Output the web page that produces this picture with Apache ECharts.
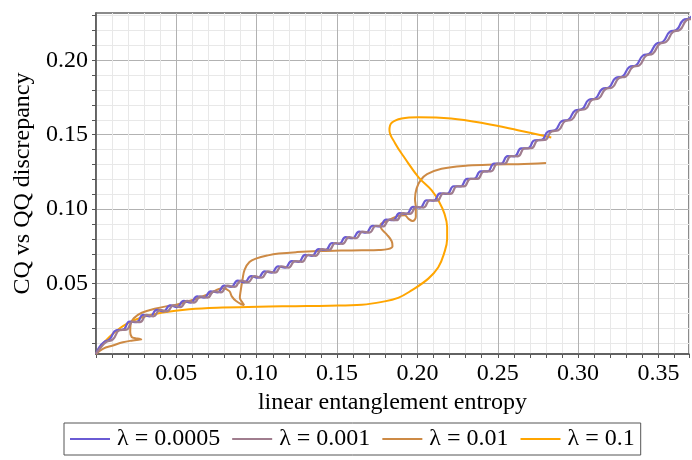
<!DOCTYPE html>
<html><head><meta charset="utf-8">
<script src="https://cdn.jsdelivr.net/npm/echarts@6/dist/echarts.min.js"></script>
<style>html,body{margin:0;padding:0;background:#fff}#c{width:692px;height:460px}</style>
</head><body><div id="c"></div>
<script>
// ---- data ----
const seriesNames = ['λ = 0.0005', 'λ = 0.001', 'λ = 0.01', 'λ = 0.1'];
const seriesColors = ['#6a5bd4', '#a07d8e', '#cd8a45', '#ffa500'];

// λ = 0.0005 (staircase-wiggly main curve), x values
const blueX = [0, 0.002, 0.005,
 0.0084,0.0126,0.0168,0.0210,0.0252,0.0294,0.0336,0.0378,0.0420,0.0462,0.0504,0.0546,0.0588,0.0630,0.0672,0.0714,0.0756,0.0798,
 0.0840,0.0882,0.0924,0.0966,0.1008,0.1050,0.1092,0.1134,0.1176,0.1218,0.1260,0.1302,0.1344,0.1386,0.1428,0.1470,0.1512,0.1554,
 0.1596,0.1638,0.1680,0.1722,0.1764,0.1806,0.1848,0.1890,0.1932,0.1974,0.2016,0.2058,0.2100,0.2142,0.2184,0.2226,0.2268,0.2310,
 0.2352,0.2394,0.2436,0.2478,0.2520,0.2562,0.2604,0.2646,0.2688,0.2730,0.2772,0.2814,0.2856,0.2898,0.2940,0.2982,0.3024,0.3066,
 0.3108,0.3150,0.3192,0.3234,0.3276,0.3318,0.3360,0.3402,0.3444,0.3486,0.3528,0.3570,0.3612,0.3654,0.3696,0.3738];
// λ = 0.001, x values (out of phase with λ = 0.0005)
const mauveX = [0, 0.003, 0.0063,
 0.0105,0.0147,0.0189,0.0231,0.0273,0.0315,0.0357,0.0399,0.0441,0.0483,0.0525,0.0567,0.0609,0.0651,0.0693,0.0735,0.0777,0.0819,
 0.0861,0.0903,0.0945,0.0987,0.1029,0.1071,0.1113,0.1155,0.1197,0.1239,0.1281,0.1323,0.1365,0.1407,0.1449,0.1491,0.1533,0.1575,
 0.1617,0.1659,0.1701,0.1743,0.1785,0.1827,0.1869,0.1911,0.1953,0.1995,0.2037,0.2079,0.2121,0.2163,0.2205,0.2247,0.2289,0.2331,
 0.2373,0.2415,0.2457,0.2499,0.2541,0.2583,0.2625,0.2667,0.2709,0.2751,0.2793,0.2835,0.2877,0.2919,0.2961,0.3003,0.3045,0.3087,
 0.3129,0.3171,0.3213,0.3255,0.3297,0.3339,0.3381,0.3423,0.3465,0.3507,0.3549,0.3591,0.3633,0.3675,0.3717,0.3759];
// shared y values of the two nearly coincident curves
const mainY = [0.0028, 0.0072, 0.0108,
 0.0126,0.0187,0.0192,0.0246,0.0242,0.0290,0.0281,0.0324,0.0314,0.0355,0.0343,0.0384,0.0373,0.0415,0.0406,0.0449,0.0442,0.0487,
 0.0478,0.0521,0.0510,0.0551,0.0540,0.0583,0.0574,0.0617,0.0607,0.0652,0.0647,0.0694,0.0687,0.0732,0.0726,0.0773,0.0767,0.0812,
 0.0805,0.0850,0.0843,0.0889,0.0884,0.0931,0.0926,0.0973,0.0968,0.1015,0.1011,0.1060,0.1057,0.1106,0.1103,0.1154,0.1153,0.1204,
 0.1203,0.1254,0.1254,0.1306,0.1305,0.1356,0.1355,0.1408,0.1409,0.1463,0.1465,0.1522,0.1530,0.1591,0.1601,0.1663,0.1672,0.1734,
 0.1744,0.1807,0.1818,0.1881,0.1891,0.1954,0.1966,0.2030,0.2044,0.2110,0.2124,0.2190,0.2203,0.2269,0.2283,0.2349];

// λ = 0.01
const peruX = [0,0.0043,0.0105,0.0167,0.0229,0.0265,0.0282,0.0268,0.0245,0.0222,0.0213,0.0215,0.0235,0.0285,0.0374,0.0457,0.0500,
 0.0600,0.0700,0.0790,0.0830,0.0845,0.0870,0.0905,0.0922,0.0910,0.0895,0.0900,0.0912,0.0925,0.0955,0.0995,0.1070,0.1138,0.1250,
 0.1386,0.1525,0.1654,0.1760,0.1815,0.1845,0.1840,0.1810,0.1775,0.1770,0.1820,0.1880,0.1920,0.1945,0.1970,0.1990,0.1990,0.1985,
 0.1995,0.2020,0.2060,0.2150,0.2315,0.2480,0.2625,0.2710,0.2800];
const peruY = [0.0028,0.0063,0.0085,0.0107,0.0119,0.0124,0.0126,0.0131,0.0134,0.0142,0.0175,0.0225,0.0268,0.0305,0.0334,0.0352,0.0358,
 0.0390,0.0430,0.0470,0.0450,0.0415,0.0385,0.0362,0.0356,0.0375,0.0405,0.0450,0.0530,0.0595,0.0645,0.0668,0.0690,0.0702,0.0712,
 0.0719,0.0722,0.0724,0.0726,0.0732,0.0752,0.0785,0.0830,0.0870,0.0895,0.0925,0.0955,0.0960,0.0935,0.0920,0.0950,0.1010,0.1070,
 0.1140,0.1195,0.1235,0.1272,0.1293,0.1300,0.1302,0.1305,0.1310];

// λ = 0.1
const orangeX = [0,0.0015,0.0043,0.0105,0.0188,0.0291,0.0415,0.0580,0.0787,0.1076,0.1242,0.1450,0.1654,0.1780,0.1880,0.1964,0.2068,
 0.2130,0.2165,0.2185,0.2185,0.2168,0.2135,0.2089,0.2006,0.1923,0.1860,0.1826,0.1840,0.1902,0.2005,0.2210,0.2420,0.2625,0.2833];
const orangeY = [0.0028,0.0060,0.0097,0.0164,0.0229,0.0276,0.0307,0.0329,0.0340,0.0347,0.0349,0.0352,0.0359,0.0378,0.0405,0.0455,0.0534,
 0.0610,0.0700,0.0800,0.0880,0.0970,0.1050,0.1127,0.1216,0.1340,0.1445,0.1530,0.1580,0.1609,0.1618,0.1609,0.1575,0.1530,0.1481];

// axis ticks
const xTickStep = 0.01;
const yTickVals = [0.01,0.02,0.03,0.04,0.05,0.06,0.07,0.08,0.09,0.10,0.11,0.12,0.13,0.14,0.15,0.16,0.17,0.18,0.19,0.20,0.21,0.22,0.23];
const yLabelVals = [0.05,0.10,0.15,0.20];

// ---- chart ----
const zip = (xs, ys) => xs.map((x, i) => [x, ys[i]]);
const FONT = 'Liberation Serif';
const MAJOR = '#b2b2b2', MINOR = '#e8e8e8';

const chart = echarts.init(document.getElementById('c'), null, {renderer: 'canvas'});
chart.setOption({
  backgroundColor: '#fff',
  animation: false,
  grid: {left: 96, top: 13, right: 0, bottom: 106, show: true, borderColor: '#666', borderWidth: 1.5, containLabel: false},
  legend: {
    left: 64, top: 423, orient: 'horizontal',
    padding: [4, 6], itemGap: 12, itemWidth: 40, itemHeight: 2,
    icon: 'rect',
    borderColor: '#555', borderWidth: 1,
    textStyle: {fontFamily: FONT, fontSize: 24, color: '#000', padding: [0, 0, 0, 2]},
    data: seriesNames
  },
  xAxis: {
    type: 'value', min: 0, max: 0.369, interval: xTickStep,
    name: 'linear entanglement entropy', nameLocation: 'middle', nameGap: 37,
    nameTextStyle: {fontFamily: FONT, fontSize: 24, color: '#000'},
    axisLine: {show: true, lineStyle: {color: '#555', width: 1.5}},
    axisTick: {show: true, length: 4, lineStyle: {color: '#555'}},
    axisLabel: {
      fontFamily: FONT, fontSize: 24, color: '#000', margin: 8,
      formatter: v => { const c = Math.round(v * 100); return (c > 0 && c % 5 === 0 && Math.abs(v - c / 100) < 1e-9) ? (c / 100).toFixed(2) : ''; }
    },
    splitLine: {show: true, lineStyle: {color: [MAJOR, MINOR, MINOR, MINOR, MINOR], width: 1}}
  },
  yAxis: {
    type: 'value', min: 0.0028, max: 0.2317,
    name: 'CQ vs QQ discrepancy', nameLocation: 'middle', nameGap: 54,
    nameTextStyle: {fontFamily: FONT, fontSize: 24, color: '#000'},
    axisLine: {show: true, lineStyle: {color: '#555', width: 1.5}},
    axisTick: {show: true, length: 4, customValues: yTickVals, lineStyle: {color: '#555'}},
    axisLabel: {fontFamily: FONT, fontSize: 24, color: '#000', margin: 8, customValues: yLabelVals, formatter: v => v.toFixed(2)},
    splitLine: {show: true, lineStyle: {color: [MINOR, MINOR, MINOR, MINOR, MAJOR], width: 1}}
  },
  series: [
    {name: seriesNames[0], type: 'line', data: zip(blueX, mainY), smooth: 0.5, showSymbol: false, symbol: 'none', z: 5,
     lineStyle: {color: seriesColors[0], width: 2.2}, itemStyle: {color: seriesColors[0]}},
    {name: seriesNames[1], type: 'line', data: zip(mauveX, mainY), smooth: 0.5, showSymbol: false, symbol: 'none', z: 6,
     lineStyle: {color: seriesColors[1], width: 2.2}, itemStyle: {color: seriesColors[1]}},
    {name: seriesNames[2], type: 'line', data: zip(peruX, peruY), smooth: 0.4, showSymbol: false, symbol: 'none', z: 3,
     lineStyle: {color: seriesColors[2], width: 2}, itemStyle: {color: seriesColors[2]}},
    {name: seriesNames[3], type: 'line', data: zip(orangeX, orangeY), smooth: 0.4, showSymbol: false, symbol: 'none', z: 4,
     lineStyle: {color: seriesColors[3], width: 2}, itemStyle: {color: seriesColors[3]}}
  ]
});
</script></body></html>
